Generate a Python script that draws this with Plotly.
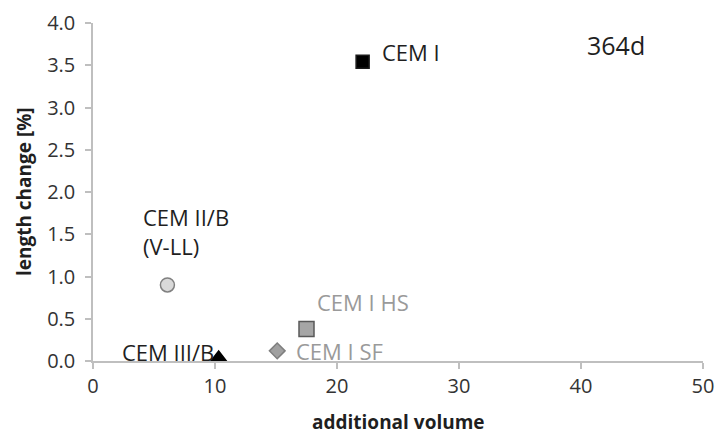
import plotly.graph_objects as go

# Cement types: additional volume vs. length change after 364 days
cements = ["CEM I", "CEM II/B<br>(V-LL)", "CEM III/B", "CEM I HS", "CEM I SF"]
additional_volume = [22.1, 6.1, 10.3, 17.5, 15.1]
length_change = [3.54, 0.90, 0.03, 0.38, 0.12]

x_ticks = [0, 10, 20, 30, 40, 50]
y_ticks = [0.0, 0.5, 1.0, 1.5, 2.0, 2.5, 3.0, 3.5, 4.0]
panel_label = "364d"

# Marker styling per cement type
symbols = ["square", "circle", "triangle-up", "square", "diamond"]
fills = ["#000000", "#d9d9d9", "#000000", "#a6a6a6", "#a0a0a0"]
outlines = ["#1a1a1a", "#808080", "#000000", "#595959", "#7f7f7f"]
sizes = [13, 14, 15, 15, 12]

# Label placement relative to each marker (pixels)
label_dx = [17, -26, -3, 8, 17]
label_dy = [10, 53, 6, 27, 0]
label_anchor = ["left", "left", "right", "left", "left"]
label_colors = ["#1f1f1f", "#1f1f1f", "#1f1f1f", "#9a9a9a", "#9a9a9a"]

FONT = "Open Sans, sans-serif"
TITLE_COLOR = "#1f1f1f"

fig = go.Figure()
for i, name in enumerate(cements):
    fig.add_trace(go.Scatter(
        x=[additional_volume[i]], y=[length_change[i]],
        mode="markers", name=name, cliponaxis=False,
        marker=dict(symbol=symbols[i], size=sizes[i], color=fills[i],
                    line=dict(color=outlines[i], width=1.5)),
    ))
    fig.add_annotation(
        x=additional_volume[i], y=length_change[i], text=name,
        showarrow=False, xanchor=label_anchor[i], yanchor="middle", align="left",
        xshift=label_dx[i], yshift=label_dy[i],
        font=dict(family=FONT, size=22, color=label_colors[i]),
    )

fig.add_annotation(
    x=40.3, y=3.74, text=panel_label, showarrow=False,
    xanchor="left", yanchor="middle",
    font=dict(family=FONT, size=25, color=TITLE_COLOR),
)

# Axis titles
fig.add_annotation(
    xref="paper", yref="paper", x=-0.113, y=0.5, text="<b>length change [%]</b>",
    showarrow=False, textangle=-90, xanchor="center", yanchor="middle",
    font=dict(family=FONT, size=19, color=TITLE_COLOR),
)
fig.add_annotation(
    xref="paper", yref="paper", x=0.5, y=-0.181, text="<b>additional volume</b>",
    showarrow=False, xanchor="center", yanchor="middle",
    font=dict(family=FONT, size=19, color=TITLE_COLOR),
)

axis_common = dict(
    showline=True, linecolor="#bfbfbf", linewidth=1.5,
    ticks="outside", ticklen=6, tickcolor="#bfbfbf", tickwidth=1.5,
    showgrid=False, zeroline=False, automargin=False,
    tickfont=dict(family=FONT, size=20, color="#333333"),
)

fig.update_xaxes(
    range=[0, 50], tickvals=x_ticks, ticktext=[str(v) for v in x_ticks],
    **axis_common,
)
fig.update_yaxes(
    range=[0, 4], tickvals=y_ticks, ticktext=[f"{v:.1f}" for v in y_ticks],
    ticklabelstandoff=6,
    **axis_common,
)

fig.update_layout(
    width=718, height=436,
    margin=dict(l=93, r=15, t=23, b=75, autoexpand=False),
    plot_bgcolor="white", paper_bgcolor="white",
    showlegend=False,
)

fig.write_html("out.html")
